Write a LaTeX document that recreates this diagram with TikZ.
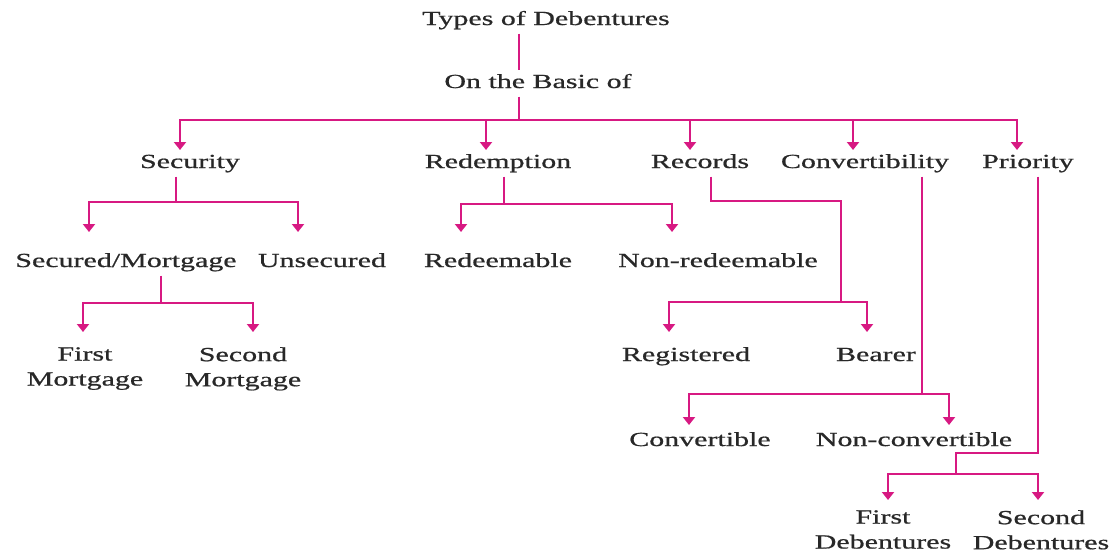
\documentclass[tikz,border=0pt]{standalone}
\usepackage{fontspec}
\setmainfont{Liberation Serif}[FakeStretch=1.5,FakeBold=0.8]
\usetikzlibrary{arrows.meta}
\definecolor{branch}{RGB}{215,25,130}
\definecolor{labelgray}{RGB}{40,40,40}
\tikzset{
  lbl/.style={
    anchor = base,
    inner sep = 0pt,
    outer sep = 3.1pt,
    text height = 9.7pt,
    text depth = 3.1pt,
    text = labelgray,
    font = \fontsize{14.2}{17.8}\selectfont
  },
  lbltwo/.style={
    anchor = north,
    inner sep = 0pt,
    align = center,
    text = labelgray,
    font = \fontsize{14.2}{17.8}\selectfont
  },
}
\tikzset{
  wire/.style={
    draw = branch,
    line width = 2pt
  },
  drop/.style={
    wire,
    -{Triangle[width=0.3cm,length=0.2cm]}
  }
}

\begin{document}
\begin{tikzpicture}[x=0.025cm,y=-0.025cm]
    \useasboundingbox (0,0) rectangle (1117,554);
    % labels (px from top left, baselines)
    \node[lbl] (types) at (546,25) {Types of Debentures};
    \node[lbl] (basis) at (538,88) {On the Basic of};
    \node[lbl] (sec) at (190,168) {Security};
    \node[lbl] (red) at (498,168) {Redemption};
    \node[lbl] (rec) at (700,168) {Records};
    \node[lbl] (con) at (865,168) {Convertibility};
    \node[lbl] (pri) at (1028,168) {Priority};
    \node[lbl] (smort) at (126,267) {Secured/Mortgage};
    \node[lbl] (unsec) at (322,267) {Unsecured};
    \node[lbl] (redm) at (498,267) {Redeemable};
    \node[lbl] (nonred) at (718,267) {Non-redeemable};
    \node[lbl] (reg) at (686,361) {Registered};
    \node[lbl] (bea) at (876,361) {Bearer};
    \node[lbl] (conv) at (700,446) {Convertible};
    \node[lbl] (nconv) at (914,446) {Non-convertible};
    \node[lbltwo] (fmort) at (85,347) {First\\Mortgage};
    \node[lbltwo] (smorttwo) at (243,347) {Second\\Mortgage};
    \node[lbltwo] (fdeb) at (883,510) {First\\Debentures};
    \node[lbltwo] (sdeb) at (1041,510) {Second\\Debentures};

    % joints and arrow ends
    \coordinate (bus) at (519,120);
    \coordinate (sec-in) at (180,150);
    \coordinate (red-in) at (486,150);
    \coordinate (rec-in) at (690,150);
    \coordinate (con-in) at (853,150);
    \coordinate (pri-in) at (1017,150);
    \coordinate (sec-fork) at (176,202);
    \coordinate (smort-in) at (89,232);
    \coordinate (unsec-in) at (298,232);
    \coordinate (red-fork) at (504,204);
    \coordinate (redm-in) at (461,232);
    \coordinate (nonred-in) at (672,232);
    \coordinate (rec-turn) at (711,201);
    \coordinate (rec-fork) at (841,302);
    \coordinate (reg-in) at (669,332);
    \coordinate (bea-in) at (867,332);
    \coordinate (con-fork) at (922,394);
    \coordinate (conv-in) at (689,425);
    \coordinate (nconv-in) at (949,425);
    \coordinate (pri-turn) at (1038,453);
    \coordinate (pri-fork) at (956,474);
    \coordinate (fdeb-in) at (888,500);
    \coordinate (sdeb-in) at (1038,500);
    \coordinate (smort-fork) at (161,303);
    \coordinate (fmort-in) at (83,332);
    \coordinate (smorttwo-in) at (253,332);

    % top
    \draw[wire] (types.south -| bus) -- (basis.north -| bus);
    \draw[wire] (basis.south -| bus) -- (bus);
    \foreach \k in {sec,red,rec,con,pri}
      \draw[drop] (bus) -| (\k-in);

    % security
    \draw[wire] (sec.south -| sec-fork) -- (sec-fork);
    \draw[drop] (sec-fork) -| (smort-in);
    \draw[drop] (sec-fork) -| (unsec-in);
    \draw[wire] (smort.south -| smort-fork) -- (smort-fork);
    \draw[drop] (smort-fork) -| (fmort-in);
    \draw[drop] (smort-fork) -| (smorttwo-in);

    % redemption
    \draw[wire] (red.south -| red-fork) -- (red-fork);
    \draw[drop] (red-fork) -| (redm-in);
    \draw[drop] (red-fork) -| (nonred-in);

    % records
    \draw[wire] (rec.south -| rec-turn) -- (rec-turn) -| (rec-fork);
    \draw[drop] (rec-fork) -| (reg-in);
    \draw[drop] (rec-fork) -| (bea-in);

    % convertibility
    \draw[wire] (con.south -| con-fork) -- (con-fork);
    \draw[drop] (con-fork) -| (conv-in);
    \draw[drop] (con-fork) -| (nconv-in);

    % priority
    \draw[wire] (pri.south -| pri-turn) -- (pri-turn) -| (pri-fork);
    \draw[drop] (pri-fork) -| (fdeb-in);
    \draw[drop] (pri-fork) -| (sdeb-in);
\end{tikzpicture}
\end{document}
